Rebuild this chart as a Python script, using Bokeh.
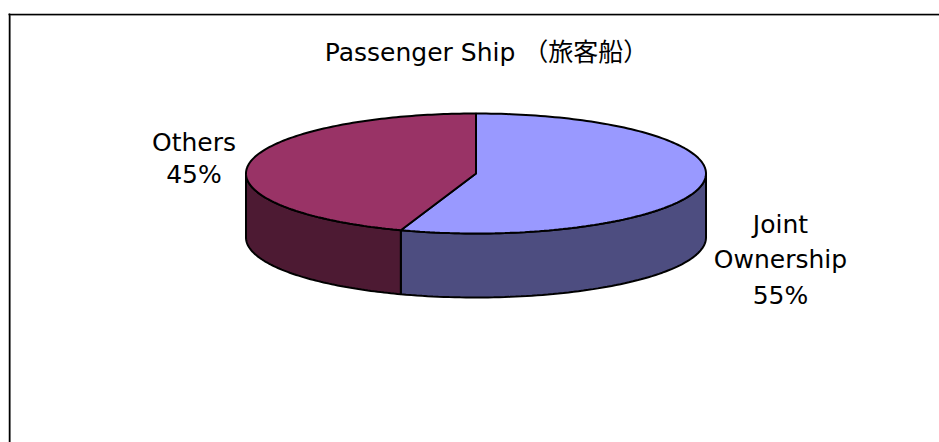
import numpy as np
from bokeh.plotting import figure
from bokeh.models import Range1d
from bokeh.core.properties import value
from bokeh.embed import file_html
from bokeh.resources import INLINE

TITLE = "Passenger Ship （旅客船）"
categories = ["Joint Ownership", "Others"]
shares = [55.3, 44.7]
top_colors = ["#9999FF", "#993366"]
side_colors = ["#4D4D80", "#4D1A33"]

W, H = 939, 442
CX, CY, RX, RY, DEPTH = 475.5, 173, 230, 60, 64
FONT = value("DejaVu Sans, Noto Sans CJK JP")

p = figure(width=W, height=H, output_backend="svg", toolbar_location=None,
           x_range=Range1d(0, W), y_range=Range1d(H, 0), min_border=0,
           outline_line_color=None, x_axis_location=None, y_axis_location=None)
p.grid.visible = False


def pt(a, dy=0.0):
    return CX + RX * np.cos(a), CY - RY * np.sin(a) + dy


angle = np.pi / 2
for share, top, side in zip(shares, top_colors, side_colors):
    end = angle - 2 * np.pi * share / 100
    # Front wall: the part of this slice that lies in the lower half of the ellipse
    lo, hi = max(end, -np.pi), min(angle, 0.0)
    if hi > lo:
        arc = np.linspace(hi, lo, 80)
        x1, y1 = pt(arc)
        x2, y2 = pt(arc[::-1], DEPTH)
        p.patch(np.r_[x1, x2], np.r_[y1, y2], fill_color=side, line_color="black", line_width=2)
    arc = np.linspace(angle, end, 160)
    x, y = pt(arc)
    p.patch(np.r_[CX, x], np.r_[CY, y], fill_color=top, line_color="black", line_width=2)
    angle = end

# Frame: a black rule with a soft grey inner edge, open at right and bottom
p.segment(x0=[9], y0=[15], x1=[W], y1=[15], line_color="#cccccc", line_width=1)
p.segment(x0=[10], y0=[14], x1=[10], y1=[H], line_color="#999999", line_width=1)
p.segment(x0=[8], y0=[14], x1=[W], y1=[14], line_color="black", line_width=1.5)
p.segment(x0=[9], y0=[13], x1=[9], y1=[H], line_color="black", line_width=1.5)

p.text(x=[486], y=[52], text=[TITLE], text_font=FONT, text_font_size="25px",
       text_align="center", text_baseline="middle", text_color="black")
p.text(x=[193.5, 193.5], y=[142, 174], text=[categories[1], f"{round(shares[1])}%"],
       text_font=FONT, text_font_size="25px", text_align="center", text_baseline="middle", text_color="black")
p.text(x=[780, 780, 780], y=[224, 259, 295],
       text=categories[0].split(" ") + [f"{round(shares[0])}%"],
       text_font=FONT, text_font_size="25px", text_align="center", text_baseline="middle", text_color="black")

open("out.html", "w").write(file_html(p, INLINE))
